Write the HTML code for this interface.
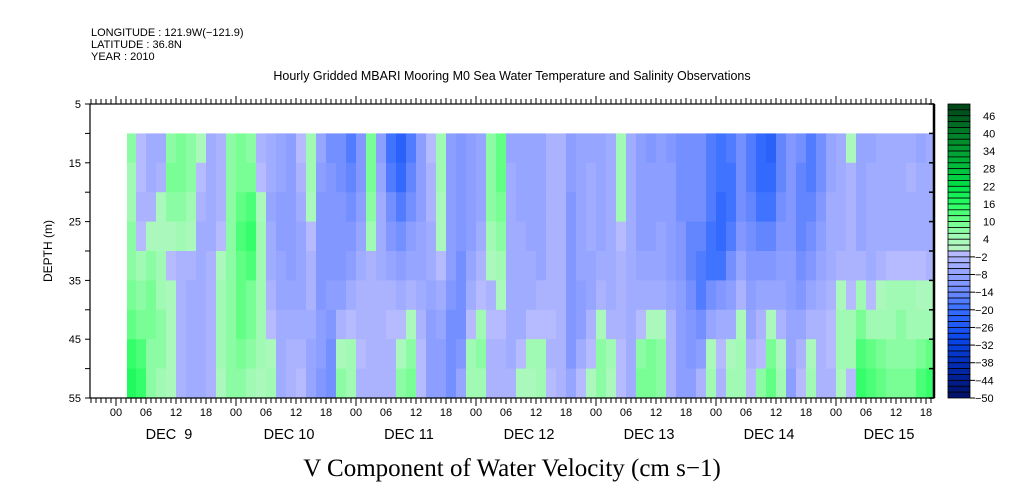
<!DOCTYPE html>
<html><head><meta charset="utf-8">
<style>
html,body{margin:0;padding:0;background:#fff;}
svg{display:block;font-family:"Liberation Sans",sans-serif;}
</style></head>
<body>
<svg id="chart" width="1009" height="504" viewBox="0 0 1009 504">
  <text x="91" y="36" font-size="11">LONGITUDE : 121.9W(−121.9)</text>
  <text x="91" y="48" font-size="11">LATITUDE : 36.8N</text>
  <text x="91" y="60" font-size="11">YEAR : 2010</text>
  <text x="512" y="80" font-size="12.5" text-anchor="middle">Hourly Gridded MBARI Mooring M0 Sea Water Temperature and Salinity Observations</text>
  <text x="512" y="476" font-size="25" font-family="Liberation Serif, serif" text-anchor="middle">V Component of Water Velocity (cm s−1)</text>
  <text transform="translate(52,251) rotate(-90)" font-size="12" text-anchor="middle">DEPTH (m)</text>
  <g id="cells"></g>
  <g id="axes"></g>
  <g id="cbar"></g>
</svg>
<script>
// ---- data ----
const depths = [10,15,20,25,30,35,40,45,50]; // band tops (m), each 5 m thick
const startHour = 2; // hours after Dec 9 00:00
const stepHours = 2;
const vProfiles = [
[6,4,4,6,6,8,10,14,16],[-2,-2,-4,-2,4,6,8,12,14],[-6,-6,-4,2,6,8,8,6,6],[-6,-4,2,2,4,4,6,6,4],
[6,8,6,2,-2,2,2,2,2],[8,8,6,4,-4,-4,-4,-4,-4],[6,6,4,2,-4,-6,-6,-6,-6],[2,-2,-4,-6,-6,-6,-6,-6,-6],
[-6,-6,-6,-6,-4,-4,-4,-4,-4],[-4,-4,-4,-2,2,4,4,4,2],[6,6,6,6,6,6,6,6,6],[8,8,10,12,10,10,10,8,6],
[6,8,12,14,12,8,8,6,4],[-4,-2,2,4,4,4,4,4,2],[-6,-6,-8,-6,-6,-4,-2,2,4],[-8,-8,-10,-10,-8,-8,-6,-6,-6],
[-10,-10,-10,-10,-10,-8,-6,-4,-4],[-2,-4,-6,-8,-8,-8,-6,-4,-2],[4,4,2,-2,-4,-4,-6,-8,-8],[-8,-10,-12,-12,-12,-12,-10,-10,-12],
[-14,-12,-12,-12,-12,-10,-12,-14,-14],[-14,-14,-12,-12,-12,-10,-4,2,6],[-18,-16,-14,-12,-10,-6,-2,4,4],[-12,-12,-10,-8,-6,-4,-4,-2,-4],
[8,8,6,4,-4,-4,-4,-4,-4],[-10,-8,-6,-6,-6,-4,-4,-4,-4],[-20,-18,-14,-12,-8,-4,-2,-4,-4],[-24,-22,-18,-14,-10,-6,-2,2,6],
[-18,-16,-14,-10,-8,-4,2,6,8],[-10,-10,-10,-8,-8,-6,-4,-2,-2],[-2,-4,-4,-6,-6,-8,-10,-10,-10],[4,4,2,2,-2,-6,-8,-10,-10],
[-10,-10,-10,-10,-10,-12,-14,-14,-14],[-12,-12,-12,-12,-14,-14,-14,-12,-8],[-10,-10,-10,-10,-8,-6,-2,4,4],[-8,-8,-8,-6,-4,-2,4,6,4],
[6,6,6,4,2,-4,-2,-4,-4],[10,10,8,6,4,2,-2,-4,-4],[-8,-6,-6,-6,-6,-6,-6,-6,-4],[-8,-8,-8,-6,-6,-6,-6,-2,2],
[-8,-8,-8,-8,-6,-6,-2,4,2],[-8,-8,-8,-8,-8,-4,-2,4,4],[-4,-4,-4,-4,-4,-4,-2,-4,-2],[-4,-4,-4,-4,-4,-4,-4,-4,-4],
[-10,-10,-12,-12,-12,-12,-12,-12,-8],[-8,-8,-8,-8,-8,-10,-10,-6,-2],[-8,-6,-6,-6,-8,-8,-4,-2,2],[-8,-8,-8,-8,-6,-4,2,6,6],
[-6,-6,-6,-6,-6,-6,-4,4,2],[4,4,4,-2,-4,-4,-4,-2,-2],[-6,-6,-6,-6,-6,-6,-6,-6,-6],[-10,-10,-10,-10,-8,-6,-2,6,8],
[-12,-10,-10,-10,-8,-6,2,8,8],[-10,-10,-10,-8,-8,-6,2,6,6],[-12,-10,-10,-10,-10,-8,-4,-4,-4],[-14,-14,-14,-12,-12,-10,-10,-10,-10],
[-14,-14,-14,-16,-16,-14,-12,-12,-10],[-14,-14,-14,-16,-18,-18,-14,-10,-4],[-18,-18,-18,-20,-20,-14,-8,2,4],[-20,-20,-22,-22,-20,-12,-6,-2,-4],
[-18,-20,-20,-18,-14,-10,-6,2,4],[-14,-14,-14,-12,-8,-4,2,4,4],[-18,-18,-16,-14,-12,-10,-8,-4,-2],[-22,-22,-20,-16,-12,-8,-4,-2,6],
[-24,-22,-20,-16,-12,-8,2,8,10],[-16,-16,-14,-12,-10,-8,-4,2,4],[-12,-12,-12,-12,-10,-10,-8,-8,-10],[-14,-16,-16,-16,-14,-12,-8,-4,-2],
[-18,-18,-16,-14,-12,-8,-4,2,4],[-14,-14,-12,-10,-8,-6,-4,-4,-4],[-8,-8,-6,-6,-6,-4,-2,-2,-4],[-6,-6,-6,-6,-4,2,4,4,2],
[2,-4,-4,-4,-4,-2,4,4,-2],[-8,-8,-8,-8,-4,4,8,12,14],[-8,-6,-6,-6,-6,-2,4,10,12],[-6,-6,-6,-6,-4,2,4,8,10],
[-6,-6,-6,-6,-2,4,4,6,8],[-6,-6,-6,-6,-2,4,6,6,8],[-6,-4,-6,-6,-2,4,4,6,8],[-8,-6,-6,-6,-2,2,4,8,12],
[-6,-6,-6,-6,-4,2,4,10,14]
];
const depthTicks = [5,15,25,35,45,55];
const hourTickLabels = ["00","06","12","18"];
const dayLabels = ["DEC  9","DEC 10","DEC 11","DEC 12","DEC 13","DEC 14","DEC 15"];
const cbarTicks = [46,40,34,28,22,16,10,4,-2,-8,-14,-20,-26,-32,-38,-44,-50];

// ---- layout / scales ----
const X0=90, X1=934, Y0=104, Y1=398;
const hMin=-5.2, hMax=163.6, dMin=5, dMax=55;
const xs = h => X0 + (h-hMin)/(hMax-hMin)*(X1-X0);
const ys = d => Y0 + (d-dMin)/(dMax-dMin)*(Y1-Y0);
const NS="http://www.w3.org/2000/svg";
function mk(tag, attrs, parent){const e=document.createElementNS(NS,tag);for(const k in attrs)e.setAttribute(k,attrs[k]);parent.appendChild(e);return e;}

const anchors=[[-50,[0,16,100]],[-40,[0,40,170]],[-30,[10,70,235]],[-20,[55,110,255]],[-12,[125,148,255]],[-6,[155,168,255]],[-1,[182,186,255]],
[1,[182,246,196]],[5,[160,250,180]],[10,[110,255,140]],[16,[40,255,100]],[22,[0,225,72]],[30,[0,180,58]],[40,[0,125,40]],[50,[0,65,24]]];
function color(v){
  v=Math.max(-49,Math.min(49,v)); v=Math.floor(v/2)*2+1; // bin centre
  for(let i=0;i<anchors.length-1;i++){const a=anchors[i],b=anchors[i+1];
    if(v<=b[0]){const t=(v-a[0])/(b[0]-a[0]);const c=a[1].map((x,j)=>Math.round(x+(b[1][j]-x)*t));return `rgb(${c})`;}}
  return 'rgb(0,65,24)';
}

// ---- heatmap ----
const cells=document.getElementById('cells');
vProfiles.forEach((prof,k)=>{
  const h0=startHour+k*stepHours, h1=h0+stepHours;
  const xa=Math.max(xs(h0),127), xb=Math.min(xs(h1),X1);
  if(xb<=xa) return;
  prof.forEach((v,i)=>{
    const ya=ys(depths[i]), yb=ys(depths[i]+5);
    const r=mk('rect',{x:xa.toFixed(2),y:ya.toFixed(2),width:(xb-xa+0.6).toFixed(2),height:(yb-ya+0.6).toFixed(2),fill:color(v)},cells);
    
    
  });
});

// ---- axes ----
const ax=document.getElementById('axes');
mk('rect',{x:X0,y:Y0,width:X1-X0,height:Y1-Y0,fill:'none',stroke:'#000','stroke-width':1.2},ax);
mk('line',{x1:X1,y1:Y0,x2:X1,y2:Y1,stroke:'#000','stroke-width':2.5},ax);
for(let h=-5;h<=163;h++){
  const x=xs(h), major=(h%24===0), six=(h%6===0);
  const len= major?8:(six?6:5);
  mk('line',{x1:x,y1:Y0,x2:x,y2:Y0-len,stroke:'#000'},ax);
  mk('line',{x1:x,y1:Y1,x2:x,y2:Y1+len,stroke:'#000'},ax);
  if(six){
    const t=mk('text',{x:x,y:Y1+18,'font-size':11,'text-anchor':'middle'},ax);
    t.textContent=hourTickLabels[((h%24)+24)%24/6];
    
    
  }
}
dayLabels.forEach((lab,i)=>{
  const t=mk('text',{x:xs(i*24+12)-7,y:Y1+41,'font-size':14.5,'text-anchor':'middle'},ax);
  t.textContent=lab; t.style.whiteSpace='pre';
  
  
});
for(let d=5;d<=55;d+=5){
  const y=ys(d);
  mk('line',{x1:X0,y1:y,x2:X0-5,y2:y,stroke:'#000'},ax);
  mk('line',{x1:X1,y1:y,x2:X1-5,y2:y,stroke:'#000','stroke-width':1.5},ax);
}
depthTicks.forEach(d=>{
  const t=mk('text',{x:X0-9,y:ys(d)+4,'font-size':11,'text-anchor':'end'},ax);
  t.textContent=d;
  
  
});

// ---- colorbar ----
const cb=document.getElementById('cbar');
const CX=948, CW=22;
const cy = v => Y0 + (50-v)/100*(Y1-Y0);
for(let v=48;v>=-50;v-=2){
  const r=mk('rect',{x:CX,y:cy(v+2),width:CW,height:cy(v)-cy(v+2),fill:color(v+1),stroke:'#000','stroke-width':0.8},cb);
  
  
}
cbarTicks.forEach(v=>{
  const y=cy(v);
  if(v<0) mk('line',{x1:CX+CW,y1:y,x2:CX+CW+5,y2:y,stroke:'#000'},cb);
  const t=mk('text',{x:v<0?CX+CW+5:CX+CW+13,y:y+4,'font-size':11},cb);
  t.textContent=v<0?'−'+(-v):String(v);
  
  
});
</script>
</body></html>
